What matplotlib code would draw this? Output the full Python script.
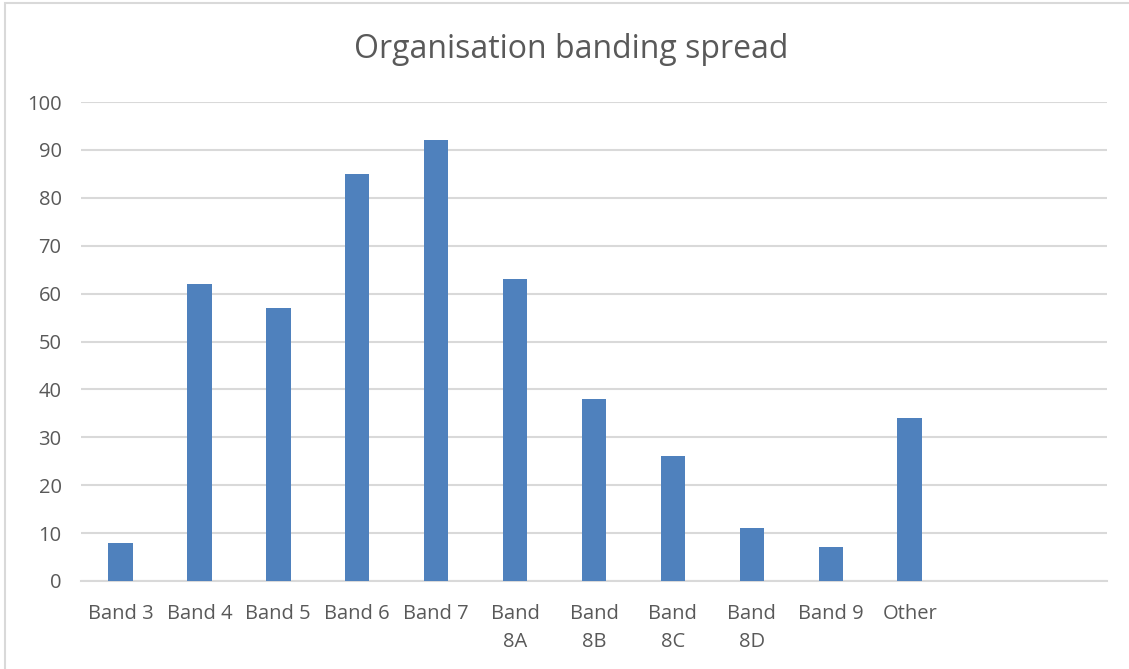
import matplotlib
matplotlib.use("Agg")
import matplotlib.pyplot as plt
from matplotlib.patches import Rectangle
import numpy as np

# Data
categories = ["Band 3", "Band 4", "Band 5", "Band 6", "Band 7", "Band\n8A",
              "Band\n8B", "Band\n8C", "Band\n8D", "Band 9", "Other"]
counts = [8, 62, 57, 85, 92, 63, 38, 26, 11, 7, 34]
y_ticks = [0, 10, 20, 30, 40, 50, 60, 70, 80, 90, 100]
title = "Organisation banding spread"
n_slots = 13  # category axis has room for two unused slots on the right

TEXT = "#595959"
GRID = "#d9d9d9"
BAR = "#4f81bd"
FONT = "Open Sans"

W, H = 1129, 669
fig = plt.figure(figsize=(W / 100, H / 100), dpi=100)
fig.patch.set_facecolor("white")

# Chart-area frame (left and top edges visible)
fig.patches.append(Rectangle((5 / W, -0.05), 1.2, (1 - 3 / H) + 0.05,
                             transform=fig.transFigure, fill=False,
                             edgecolor=GRID, linewidth=1.5, zorder=0))

left, right = 81 / W, 1107 / W
bottom, top = 1 - 581 / H, 1 - 102 / H
ax = fig.add_axes([left, bottom, right - left, top - bottom])

x = np.arange(len(categories))
ax.bar(x, counts, width=0.31, color=BAR, zorder=3)

ax.set_xlim(-0.5, n_slots - 0.5)
ax.set_ylim(0, 100)
ax.set_yticks(y_ticks)
ax.set_yticklabels([str(t) for t in y_ticks], fontsize=14.5, color=TEXT,
                   family=FONT)
ax.set_xticks(x)
ax.set_xticklabels(categories, fontsize=14.5, color=TEXT, family=FONT,
                   linespacing=1.55, va="top")

ax.tick_params(axis="y", length=0, pad=14)
ax.tick_params(axis="x", length=0, pad=16.5)

ax.grid(axis="y", color=GRID, linewidth=1.5, zorder=0)
ax.set_axisbelow(True)
for s in ["top", "right", "left"]:
    ax.spines[s].set_visible(False)
ax.spines["bottom"].set_color(GRID)
ax.spines["bottom"].set_linewidth(1.5)
ax.spines["bottom"].set_zorder(1)

fig.text(571 / W, 1 - 49.5 / H, title, ha="center", va="center",
         fontsize=23, color=TEXT, family=FONT)

fig.savefig("out.png", dpi=100)
